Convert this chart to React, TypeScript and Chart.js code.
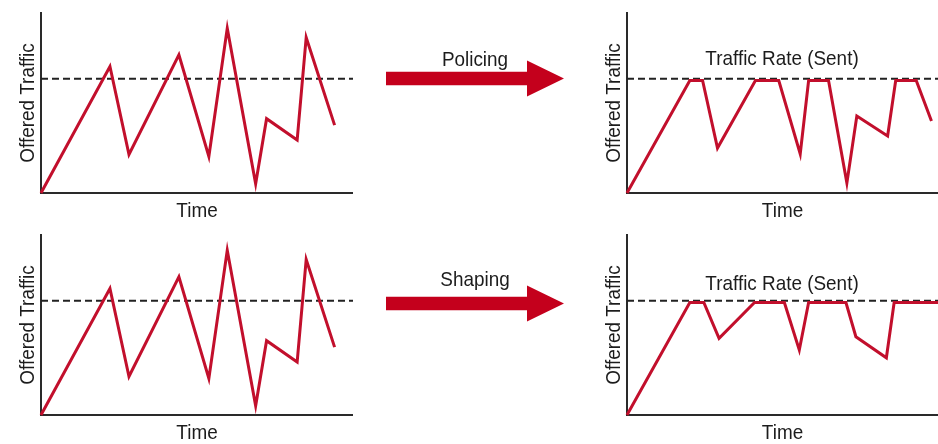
import React, { useEffect, useRef } from 'react';
import { Chart, registerables } from 'chart.js';

Chart.register(...registerables);

const FONT = "'Liberation Sans', Arial, Helvetica, sans-serif";
const FONT_SIZE = 21;
const CONDENSE = 0.9;
const RED = '#c20f2c';
const ARROW_RED = '#c4001c';
const INK = '#1c1c1c';

// Offered traffic (same on both left panels)
const OFFERED_X = [0, 22.1, 28.2, 44.2, 53.8, 59.7, 68.8, 72.3, 82.1, 85.0, 94.1];
const OFFERED_Y = [0, 70.3, 21.4, 76.8, 20.3, 91.5, 5.1, 41.3, 29.4, 86.4, 37.7];

// Policed traffic (top right)
const POLICED_X = [0, 20.2, 24.3, 29.1, 41.3, 48.8, 55.7, 58.4, 64.8, 70.7, 73.9, 83.8, 86.4, 93.0, 97.9];
const POLICED_Y = [0, 62.5, 62.5, 25, 62.5, 62.5, 21.7, 62.5, 62.5, 5.6, 42.8, 31.7, 62.5, 62.5, 40];

// Shaped traffic (bottom right)
const SHAPED_X = [0, 20.2, 24.7, 29.6, 41.0, 50.6, 55.4, 58.4, 70.4, 73.6, 83.4, 85.9, 100];
const SHAPED_Y = [0, 62.5, 62.5, 42.6, 62.5, 62.5, 36.1, 62.5, 62.5, 43.5, 31.8, 62.5, 62.5];

const RATE_LIMIT = 63.5;
const AXIS_MIN = 0;
const AXIS_MAX = 100;

const Y_TITLE = 'Offered Traffic';
const X_TITLE = 'Time';
const RATE_LABEL = 'Traffic Rate (Sent)';
const POLICING_LABEL = 'Policing';
const SHAPING_LABEL = 'Shaping';

// Draws the scale titles in a condensed sans face (Helvetica Condensed look)
const condensedTitles = {
  id: 'condensedTitles',
  afterDraw(chart: any) {
    const { ctx, chartArea, scales } = chart;
    ctx.save();
    ctx.font = `${FONT_SIZE}px ${FONT}`;
    ctx.fillStyle = INK;
    ctx.textAlign = 'center';
    ctx.textBaseline = 'alphabetic';

    ctx.save();
    ctx.translate((chartArea.left + chartArea.right) / 2, chartArea.bottom + 24);
    ctx.scale(CONDENSE, 1);
    ctx.fillText(scales.x.options.title.text, 0, 0);
    ctx.restore();

    ctx.save();
    ctx.translate(chartArea.left - 7.5, (chartArea.top + chartArea.bottom) / 2);
    ctx.rotate(-Math.PI / 2);
    ctx.scale(CONDENSE, 1);
    ctx.fillText(scales.y.options.title.text, 0, 0);
    ctx.restore();

    ctx.restore();
  },
};

type PanelProps = { left: number; top: number; width: number; height: number; xs: number[]; ys: number[] };

function Panel({ left, top, width, height, xs, ys }: PanelProps) {
  const ref = useRef<HTMLCanvasElement>(null);
  useEffect(() => {
    const chart = new Chart(ref.current as HTMLCanvasElement, {
      type: 'line',
      data: {
        datasets: [
          {
            data: xs.map((x, i) => ({ x, y: ys[i] })),
            borderColor: RED,
            borderWidth: 3,
            pointRadius: 0,
            tension: 0,
            fill: false,
            borderJoinStyle: 'miter',
            clip: false as any,
          },
          {
            data: [{ x: AXIS_MIN, y: RATE_LIMIT }, { x: AXIS_MAX, y: RATE_LIMIT }],
            borderColor: '#222',
            borderWidth: 2,
            borderDash: [7, 4],
            pointRadius: 0,
            fill: false,
          },
        ],
      },
      plugins: [condensedTitles],
      options: {
        animation: false,
        responsive: false,
        events: [],
        layout: { padding: { top: 13, left: 0, right: 0, bottom: 0 } },
        plugins: { legend: { display: false }, tooltip: { enabled: false }, title: { display: false } },
        scales: {
          x: {
            type: 'linear',
            min: AXIS_MIN,
            max: AXIS_MAX,
            ticks: { display: false },
            grid: { display: false, drawTicks: false },
            border: { display: true, color: '#2a2a2a', width: 2 },
            title: { display: false, text: X_TITLE },
            afterFit: (s: any) => { s.height = 29; },
          },
          y: {
            type: 'linear',
            min: AXIS_MIN,
            max: AXIS_MAX,
            ticks: { display: false },
            grid: { display: false, drawTicks: false },
            border: { display: true, color: '#2a2a2a', width: 2 },
            title: { display: false, text: Y_TITLE },
            afterFit: (s: any) => { s.width = 41; },
          },
        },
      } as any,
    });
    return () => chart.destroy();
  }, []);
  return <canvas ref={ref} width={width} height={height} style={{ position: 'absolute', left, top, width, height }} />;
}

function Label({ x, y, text }: { x: number; y: number; text: string }) {
  return (
    <div
      style={{
        position: 'absolute',
        left: x,
        top: y,
        transform: `translate(-50%, -50%) scaleX(${CONDENSE})`,
        fontFamily: FONT,
        fontSize: FONT_SIZE,
        lineHeight: `${FONT_SIZE}px`,
        color: INK,
        whiteSpace: 'nowrap',
      }}
    >
      {text}
    </div>
  );
}

function Arrow({ cy }: { cy: number }) {
  const pts = [
    [386, cy - 6.7],
    [527, cy - 6.7],
    [527, cy - 18],
    [564, cy],
    [527, cy + 18],
    [527, cy + 6.7],
    [386, cy + 6.7],
  ]
    .map((p) => p.join(','))
    .join(' ');
  return <polygon points={pts} fill={ARROW_RED} />;
}

export default function App() {
  return (
    <div style={{ position: 'absolute', left: 0, top: 0, width: 938, height: 444, background: '#fff', overflow: 'hidden' }}>
      <Panel left={0} top={0} width={353} height={222} xs={OFFERED_X} ys={OFFERED_Y} />
      <Panel left={586} top={0} width={352} height={222} xs={POLICED_X} ys={POLICED_Y} />
      <Panel left={0} top={222} width={353} height={222} xs={OFFERED_X} ys={OFFERED_Y} />
      <Panel left={586} top={222} width={352} height={222} xs={SHAPED_X} ys={SHAPED_Y} />
      <svg width={938} height={444} style={{ position: 'absolute', left: 0, top: 0, pointerEvents: 'none' }}>
        <Arrow cy={78.5} />
        <Arrow cy={303.5} />
      </svg>
      <Label x={475} y={57.5} text={POLICING_LABEL} />
      <Label x={475} y={277.5} text={SHAPING_LABEL} />
      <Label x={782} y={57} text={RATE_LABEL} />
      <Label x={782} y={281.5} text={RATE_LABEL} />
    </div>
  );
}
